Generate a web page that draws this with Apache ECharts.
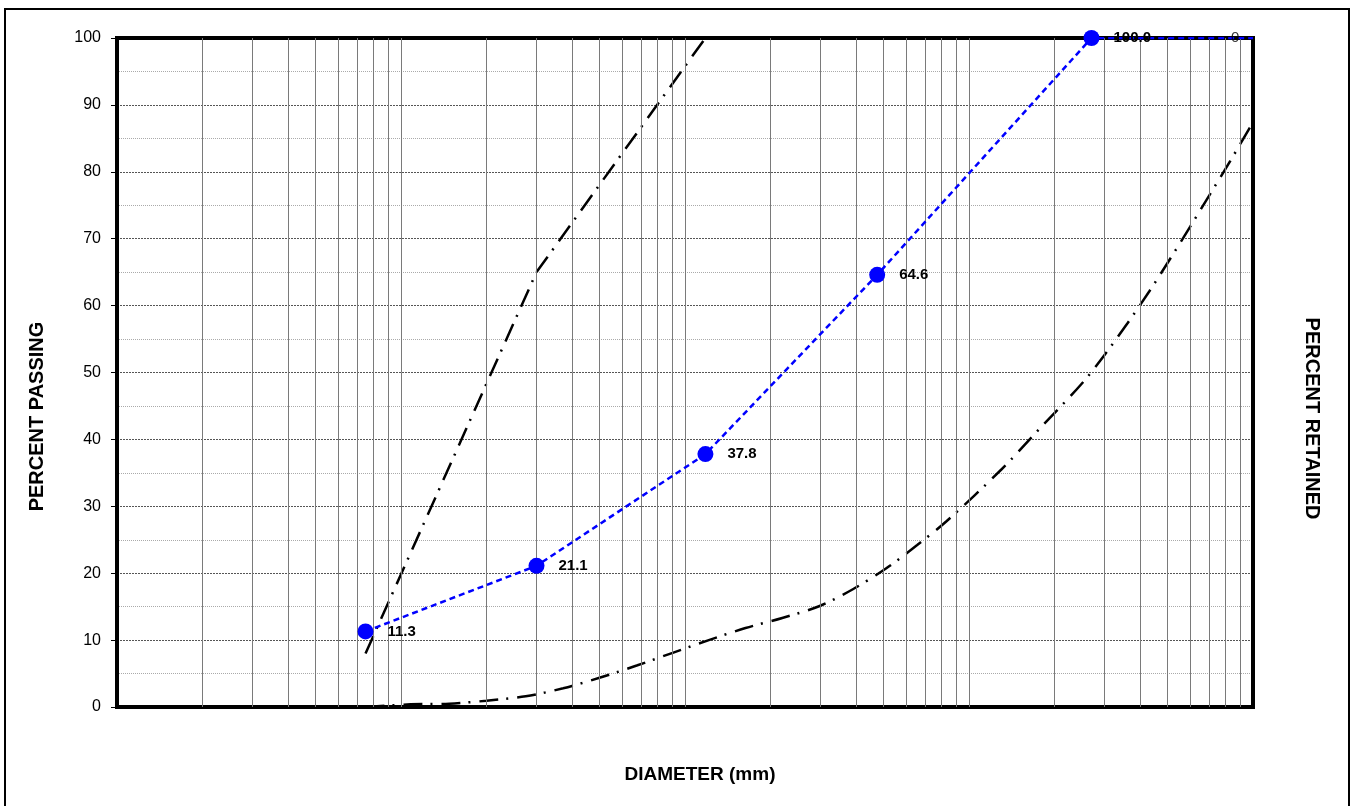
<!DOCTYPE html>
<html>
<head>
<meta charset="utf-8">
<script src="https://cdn.jsdelivr.net/npm/echarts@6/dist/echarts.min.js"></script>
<style>
  html, body { margin: 0; padding: 0; background: #fff; }
  #chart { width: 1352px; height: 806px; }
</style>
</head>
<body>
<div id="chart"></div>
<script>
// ---- Data ----
// Sample gradation (percent passing)
const sampleDiameter = [0.075, 0.3, 1.18, 4.75, 27, 100];
const samplePassing  = [11.3, 21.1, 37.8, 64.6, 100.0, 100.0];

// Upper specification limit
const upperDiameter = [0.075, 0.3, 1.18];
const upperPassing  = [8, 65, 100];

// Lower specification limit
const lowerDiameter = [0.075, 0.108, 0.148, 0.2, 0.275, 0.3725, 0.503, 0.676, 0.905, 1.213, 1.633, 2.2, 2.98, 3.9, 5.1, 6.57, 8.35, 13.0, 18.0, 24.8, 30.1, 36.2, 43.1, 51.1, 60.1, 70.7, 83.1, 100];
const lowerPassing  = [0, 0.4, 0.5, 0.94, 1.6, 2.8, 4.4, 6.2, 8.1, 10.0, 11.8, 13.3, 15.1, 17.6, 20.7, 24.2, 27.8, 35.5, 41.9, 48.2, 52.7, 57.4, 62.1, 67.0, 71.8, 76.7, 81.6, 87.4];

// Percent retained label (secondary axis)
const retainedDiameter = [70];
const retainedValue    = [0];

// Axis ranges / ticks
const diameterMin = 0.01, diameterMax = 100;
const gridDecades = [0.01, 0.1, 1, 10];
const gridMantissas = [1, 2, 3, 4, 5, 6, 7, 8, 9];

// ---- Build options ----
const FONT = 'Liberation Sans, Arial, sans-serif';
const gridX = [];
gridDecades.forEach(d => gridMantissas.forEach(m => {
  const v = +(d * m).toPrecision(6);
  if (v > diameterMin && v < diameterMax) gridX.push(v);
}));

const sampleData = sampleDiameter.map((d, i) => {
  const item = { value: [d, samplePassing[i]] };
  if (i === sampleDiameter.length - 1) {
    item.symbol = 'none';
    item.label = { show: false };
  }
  return item;
});

const chart = echarts.init(document.getElementById('chart'), null, { renderer: 'canvas' });
chart.setOption({
  animation: false,
  backgroundColor: '#fff',
  textStyle: { fontFamily: FONT },
  graphic: [{
    type: 'rect', silent: true, z: 0,
    shape: { x: 5, y: 9, width: 1344, height: 820 },
    style: { fill: 'none', stroke: '#000', lineWidth: 2 }
  }],
  grid: {
    left: 117, top: 38, right: 99, bottom: 99,
    show: true, borderColor: '#000', borderWidth: 4, backgroundColor: 'transparent', z: 5
  },
  xAxis: {
    type: 'log', logBase: 10, min: diameterMin, max: diameterMax,
    name: 'DIAMETER (mm)', nameLocation: 'middle', nameGap: 58,
    nameTextStyle: { fontFamily: FONT, fontWeight: 'bold', fontSize: 19, color: '#000', padding: [0, 0, 0, 30] },
    axisLine: { show: false }, axisTick: { show: false }, axisLabel: { show: false },
    splitLine: { show: false }
  },
  yAxis: [{
    type: 'value', min: 0, max: 100, interval: 10,
    name: 'PERCENT PASSING', nameLocation: 'middle', nameRotate: 90, nameGap: 70,
    nameTextStyle: { fontFamily: FONT, fontWeight: 'bold', fontSize: 20, color: '#000', padding: [0, 88, 0, 0] },
    axisLine: { show: false },
    axisTick: { show: true, length: 6, lineStyle: { color: '#000', width: 1 } },
    axisLabel: { margin: 16, fontFamily: FONT, fontSize: 16, color: '#000' },
    splitLine: { show: true, lineStyle: { color: '#555', width: 1, type: [2, 1] } },
    minorTick: { show: false, splitNumber: 2 },
    minorSplitLine: { show: true, lineStyle: { color: '#aaa', width: 1, type: [1, 1] } }
  }, {
    type: 'value', min: 0, max: 100, inverse: true,
    name: 'PERCENT RETAINED', nameLocation: 'middle', nameRotate: -90, nameGap: 49,
    nameTextStyle: { fontFamily: FONT, fontWeight: 'bold', fontSize: 20, color: '#000', padding: [0, 0, 0, 92] },
    axisLine: { show: false }, axisTick: { show: false }, axisLabel: { show: false },
    splitLine: { show: false }
  }],
  series: [{
    name: 'grid', type: 'line', data: [], z: 1, silent: true,
    markLine: {
      silent: true, symbol: 'none', animation: false,
      label: { show: false },
      lineStyle: { color: '#7a7a7a', width: 1, type: 'solid' },
      data: gridX.map(v => ({ xAxis: v }))
    }
  }, {
    name: 'Upper limit', type: 'line', z: 3,
    data: upperDiameter.map((d, i) => [d, upperPassing[i]]),
    symbol: 'none', smooth: false,
    lineStyle: { color: '#000', width: 2.5, type: [19, 8, 2, 9], cap: 'butt' }
  }, {
    name: 'Lower limit', type: 'line', z: 3,
    data: lowerDiameter.map((d, i) => [d, lowerPassing[i]]),
    symbol: 'none', smooth: 0.3,
    lineStyle: { color: '#000', width: 2.5, type: [19, 8, 2, 9], cap: 'butt' }
  }, {
    name: 'Sample', type: 'line', z: 6,
    data: sampleData,
    symbol: 'circle', symbolSize: 16,
    itemStyle: { color: '#0000ff' },
    lineStyle: { color: '#0000ff', width: 2.5, type: [6, 4] },
    label: {
      show: true, position: 'right', distance: 14,
      fontFamily: FONT, fontWeight: 'bold', fontSize: 15, color: '#000',
      formatter: p => p.value[1].toFixed(1)
    }
  }, {
    name: 'Retained', type: 'scatter', yAxisIndex: 1, z: 6,
    data: retainedDiameter.map((d, i) => [d, retainedValue[i]]),
    symbol: 'circle', symbolSize: 2,
    itemStyle: { color: 'rgba(0,0,0,0)' },
    label: {
      show: true, position: 'right', distance: 21,
      fontFamily: FONT, fontSize: 15, color: '#000',
      formatter: p => String(p.value[1])
    }
  }]
});
</script>
</body>
</html>
